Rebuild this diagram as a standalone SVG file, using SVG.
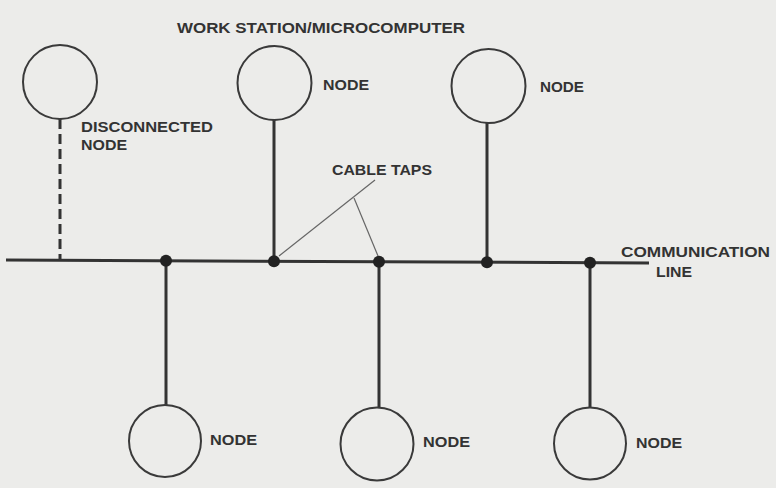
<svg xmlns="http://www.w3.org/2000/svg" width="776" height="488" viewBox="0 0 776 488">
<style>
.bg{fill:#ececea}
.node{fill:none;stroke:#3a3a3a;stroke-width:2}
.stem{stroke:#333;stroke-width:3;fill:none}
.dash{stroke:#333;stroke-width:3;fill:none;stroke-dasharray:10 5}
.ptr{stroke:#666;stroke-width:1.2;fill:none}
.tap{fill:#222}
.lbl{font-family:"Liberation Sans",Arial,sans-serif;font-size:15px;font-weight:bold;fill:#333}
</style>
<rect class="bg" x="0" y="0" width="776" height="488"/>
<text class="lbl" x="177" y="33" textLength="288" lengthAdjust="spacingAndGlyphs">WORK STATION/MICROCOMPUTER</text>
<g id="connectors">
<line class="stem" x1="6" y1="260" x2="649" y2="263"/>
<line class="dash" x1="60" y1="119" x2="60" y2="260"/>
<line class="stem" x1="274" y1="120" x2="274" y2="261"/>
<line class="stem" x1="487" y1="123" x2="487" y2="262"/>
<line class="stem" x1="166" y1="261" x2="166" y2="405"/>
<line class="stem" x1="379" y1="262" x2="379" y2="408"/>
<line class="stem" x1="590" y1="263" x2="590" y2="408"/>
<line class="ptr" x1="375" y1="180" x2="279" y2="256"/>
<line class="ptr" x1="354" y1="198" x2="378" y2="256"/>
<circle class="tap" cx="166" cy="260.8" r="6"/>
<circle class="tap" cx="274" cy="261.3" r="6"/>
<circle class="tap" cx="379" cy="261.8" r="6"/>
<circle class="tap" cx="487" cy="262.2" r="6"/>
<circle class="tap" cx="590" cy="262.7" r="6"/>
<text class="lbl" x="332" y="175" textLength="100" lengthAdjust="spacingAndGlyphs">CABLE TAPS</text>
<text class="lbl" x="621" y="257" textLength="149" lengthAdjust="spacingAndGlyphs">COMMUNICATION</text>
<text class="lbl" x="656" y="277" textLength="36" lengthAdjust="spacingAndGlyphs">LINE</text>
</g>
<g id="node-disconnected">
<circle class="node" cx="60" cy="82" r="37"/>
<text class="lbl" x="81" y="132" textLength="132" lengthAdjust="spacingAndGlyphs">DISCONNECTED</text>
<text class="lbl" x="81" y="150" textLength="46" lengthAdjust="spacingAndGlyphs">NODE</text>
</g>
<g id="node-top-1">
<circle class="node" cx="274.5" cy="83" r="37"/>
<text class="lbl" x="323" y="90" textLength="46" lengthAdjust="spacingAndGlyphs">NODE</text>
</g>
<g id="node-top-2">
<circle class="node" cx="488.5" cy="86" r="37"/>
<text class="lbl" x="540" y="92" textLength="44" lengthAdjust="spacingAndGlyphs">NODE</text>
</g>
<g id="node-bottom-1">
<circle class="node" cx="165" cy="441" r="36"/>
<text class="lbl" x="210" y="445" textLength="47" lengthAdjust="spacingAndGlyphs">NODE</text>
</g>
<g id="node-bottom-2">
<circle class="node" cx="377" cy="444" r="36.5"/>
<text class="lbl" x="423" y="447" textLength="47" lengthAdjust="spacingAndGlyphs">NODE</text>
</g>
<g id="node-bottom-3">
<circle class="node" cx="590" cy="443.5" r="36"/>
<text class="lbl" x="636" y="448" textLength="46" lengthAdjust="spacingAndGlyphs">NODE</text>
</g>
</svg>
